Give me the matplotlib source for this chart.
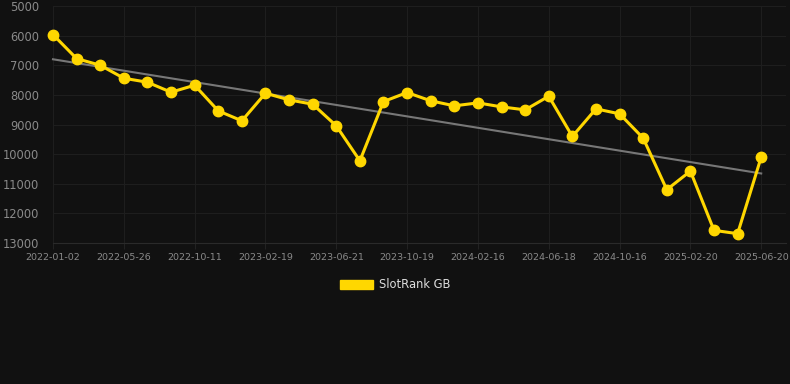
import numpy as np
import matplotlib
matplotlib.use("Agg")
import matplotlib.pyplot as plt
from matplotlib.patches import Patch

tick_labels = ["2022-01-02", "2022-05-26", "2022-10-11", "2023-02-19", "2023-06-21",
               "2023-10-19", "2024-02-16", "2024-06-18", "2024-10-16", "2025-02-20", "2025-06-20"]
ranks = [5966, 6775, 7000, 7438, 7573, 7910, 7674, 8539, 8876, 7944,
         8169, 8315, 9045, 10225, 8225, 7921, 8200, 8370, 8270, 8405,
         8506, 8045, 9404, 8472, 8640, 9460, 11200, 10573, 12573, 12685, 10100]
series_name = "SlotRank GB"

W, H = 790, 384
fig = plt.figure(figsize=(W/100, H/100), dpi=100, facecolor="#111111")
ax = fig.add_axes([53/W, 1-243/H, (786-53)/W, (243-6)/H], facecolor="#111111")

x = np.arange(len(ranks))
coef = np.polyfit(x, ranks, 1)
ax.plot(x, np.polyval(coef, x), color="#777777", lw=1.5, zorder=2, clip_on=False)
ax.plot(x, ranks, color="#FFD700", lw=2.2, marker="o", markersize=7.5, zorder=3, clip_on=False)

ax.set_ylim(13000, 5000)
ax.set_yticks(np.arange(5000, 13001, 1000))
ax.set_xlim(0, 31.05)
ax.set_xticks(x[::3])
ax.set_xticklabels(tick_labels)

ax.grid(True, color="#1e1e1e", lw=0.8, zorder=0)
for s in ax.spines.values():
    s.set_visible(False)
ax.spines["bottom"].set_visible(True)
ax.spines["bottom"].set_color("#2a2a2a")
ax.spines["bottom"].set_linewidth(0.8)
ax.tick_params(axis="y", length=0, pad=10, labelsize=8.3, labelcolor="#8a8a8a")
ax.tick_params(axis="x", length=4, color="#222222", pad=3, labelsize=6.8, labelcolor="#8a8a8a")

leg = fig.legend(handles=[Patch(facecolor="#FFD700", edgecolor="#FFD700", label=series_name)],
                 loc="center", bbox_to_anchor=(395/W, 1-285/H), frameon=False,
                 fontsize=8.3, handlelength=2.9, handleheight=0.9, handletextpad=0.5)
for t in leg.get_texts():
    t.set_color("#dddddd")

fig.savefig("out.png", dpi=100, facecolor="#111111")
